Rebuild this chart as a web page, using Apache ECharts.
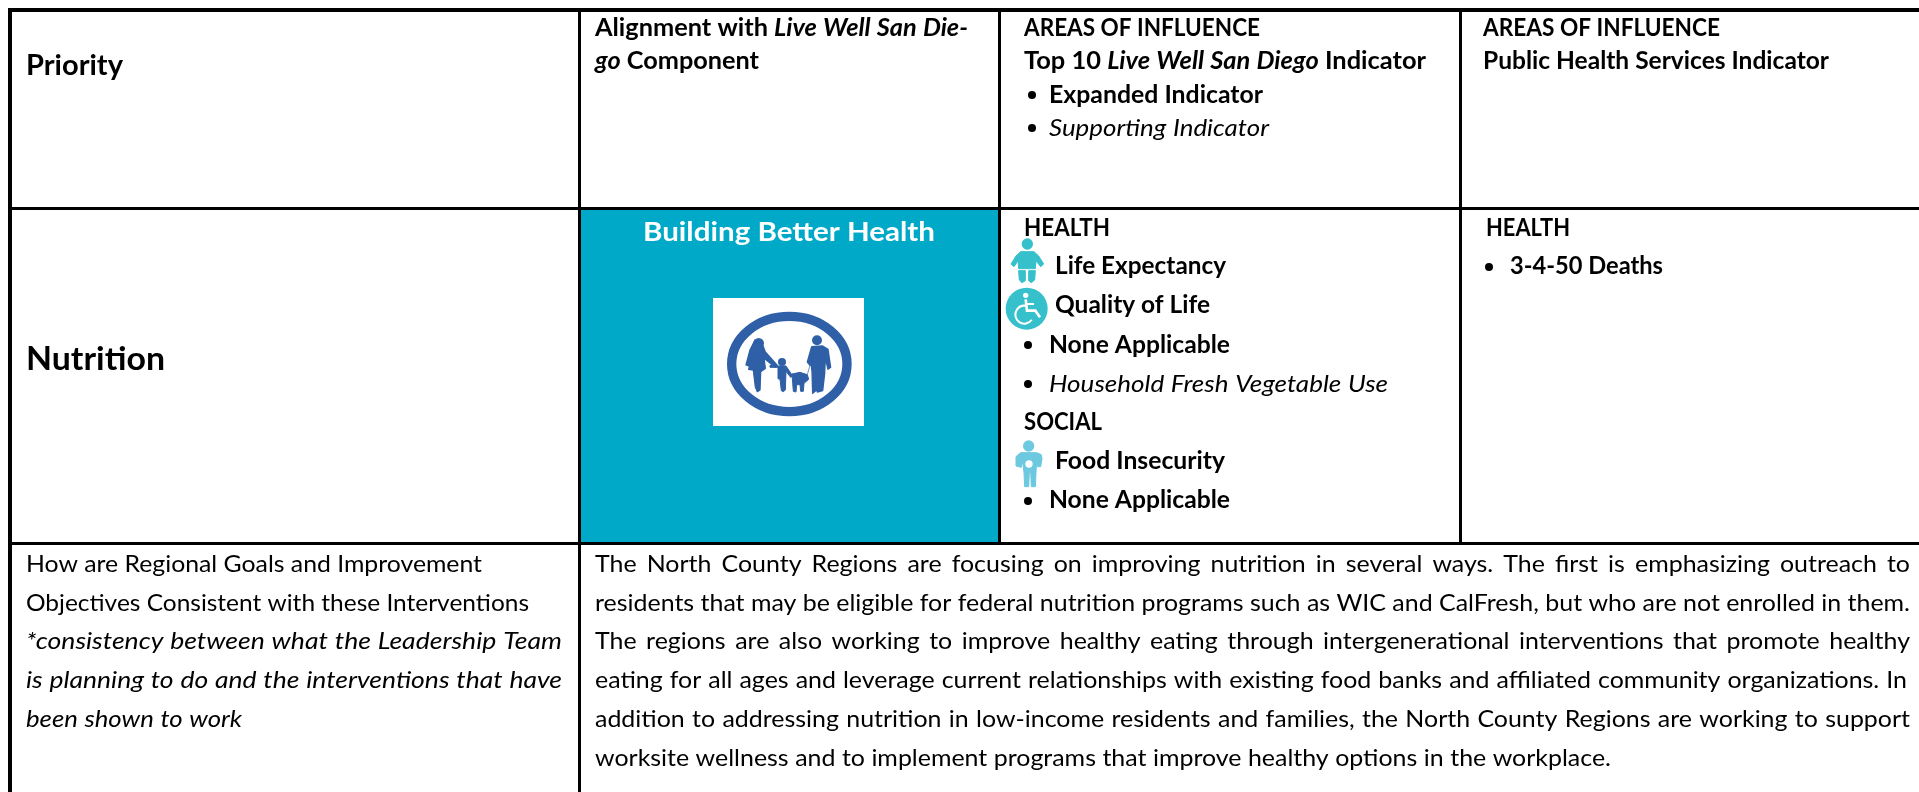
<!DOCTYPE html>
<html>
<head>
<meta charset="utf-8">
<title>Nutrition priority</title>
<script src="https://cdn.jsdelivr.net/npm/echarts@6/dist/echarts.min.js"></script>
<style>
html, body { margin: 0; padding: 0; background: #fff; }
#main { width: 1919px; height: 792px; }
</style>
</head>
<body>
<div id="main"></div>
<script>
// table text, *...* marks italic words
var priorityHead = 'Priority';
var alignmentHead = ['Alignment with *Live Well San Die-*', '*go* Component'];
var top10Head = ['AREAS OF INFLUENCE', 'Top 10 *Live Well San Diego* Indicator', 'Expanded Indicator', '*Supporting Indicator*'];
var publicHead = ['AREAS OF INFLUENCE', 'Public Health Services Indicator'];
var priorityName = 'Nutrition';
var componentName = 'Building Better Health';
var top10Health = ['HEALTH', 'Life Expectancy', 'Quality of Life', 'None Applicable', '*Household Fresh Vegetable Use*'];
var top10Social = ['SOCIAL', 'Food Insecurity', 'None Applicable'];
var publicHealth = ['HEALTH', '3-4-50 Deaths'];
var consistencyText = [
    'How are Regional Goals and Improvement',
    'Objectives Consistent with these Interventions',
    '*\u002Aconsistency between what the Leadership Team*',
    '*is planning to do and the interventions that have*',
    '*been shown to work*'
];
var regionText = [
    'The North County Regions are focusing on improving nutrition in several ways. The first is emphasizing outreach to',
    'residents that may be eligible for federal nutrition programs such as WIC and CalFresh, but who are not enrolled in them.',
    'The regions are also working to improve healthy eating through intergenerational interventions that promote healthy',
    'eating for all ages and leverage current relationships with existing food banks and affiliated community organizations. In',
    'addition to addressing nutrition in low-income residents and families, the North County Regions are working to support',
    'worksite wellness and to implement programs that improve healthy options in the workplace.'
];

var FONT = 'Lato';
var measureCtx = document.createElement('canvas').getContext('2d');

function fontOf(size, bold, italic) {
    return (italic ? 'italic ' : '') + (bold ? 'bold ' : '') + size + 'px ' + FONT;
}

// split "a *b c* d" into words with an italic flag
function parseWords(text) {
    var words = [];
    var italic = false;
    text.split(' ').forEach(function (w) {
        var open = w.charAt(0) === '*' && w.length > 1;
        if (open) { italic = true; w = w.slice(1); }
        var close = w.charAt(w.length - 1) === '*';
        if (close) { w = w.slice(0, -1); }
        words.push({ text: w, italic: italic });
        if (close) { italic = false; }
    });
    return words;
}

function naturalWidth(text, size, bold) {
    var words = parseWords(text);
    var sum = 0;
    words.forEach(function (w) {
        measureCtx.font = fontOf(size, bold, w.italic);
        w.width = measureCtx.measureText(w.text).width;
        sum += w.width;
    });
    measureCtx.font = fontOf(size, bold, false);
    var space = measureCtx.measureText(' ').width;
    return { words: words, sum: sum, space: space, total: sum + space * (words.length - 1) };
}

// how far the alphabetic baseline sits below the middle line that zrender draws on
function baselineDrop(size, bold) {
    measureCtx.font = fontOf(size, bold, false);
    measureCtx.textBaseline = 'middle';
    var drop = measureCtx.measureText('H').actualBoundingBoxDescent;
    measureCtx.textBaseline = 'alphabetic';
    return drop;
}

var elements = [];

// one line of text from x0 to x1, sitting on the given baseline
function addLine(text, x0, x1, baseline, size, bold, fill, fixedScale) {
    var m = naturalWidth(text, size, bold);
    var k = fixedScale || (x1 - x0) / m.total;
    var gap = fixedScale ? (x1 - x0 - m.sum * k) / Math.max(1, m.words.length - 1) : m.space * k;
    var drop = baselineDrop(size, bold);
    var x = x0;
    m.words.forEach(function (w) {
        elements.push({
            type: 'text',
            x: x,
            y: baseline - drop,
            scaleX: k,
            silent: true,
            style: {
                text: w.text,
                font: fontOf(size, bold, w.italic),
                fill: fill || '#000',
                align: 'left',
                verticalAlign: 'middle'
            }
        });
        x += w.width * k + gap;
    });
}

function addRect(x, y, w, h, fill) {
    elements.push({ type: 'rect', silent: true, shape: { x: x, y: y, width: w, height: h }, style: { fill: fill } });
}

function addBullet(x, y) {
    elements.push({ type: 'circle', silent: true, shape: { cx: x, cy: y, r: 4 }, style: { fill: '#000' } });
}

function blob(points, fill, fatten) {
    return { type: 'polygon', shape: { points: points }, style: { fill: fill, stroke: fill, lineWidth: fatten || 0, lineJoin: 'round' } };
}

function dot(cx, cy, r, fill) {
    return { type: 'circle', shape: { cx: cx, cy: cy, r: r }, style: { fill: fill } };
}

function stroke(points, color, width) {
    return { type: 'polyline', shape: { points: points }, style: { fill: 'none', stroke: color, lineWidth: width } };
}

// teal cell
addRect(580, 208, 420, 335, '#00A9C7');

// logo tile, drawn in a local 3x space so the silhouettes are easy to trace
addRect(713, 298, 151, 128, '#fff');
var LOGO = '#2F5FA6';
elements.push({
    type: 'group', x: 700, y: 290, scaleX: 1 / 3, scaleY: 1 / 3, silent: true,
    children: [
        { type: 'ellipse', shape: { cx: 268, cy: 222, rx: 173, ry: 143 }, style: { fill: 'none', stroke: LOGO, lineWidth: 28 } },
        dot(176, 160, 16, LOGO),
        blob([[165, 150], [150, 180], [138, 225], [146, 228], [156, 200], [146, 238], [160, 240], [166, 290], [172, 305], [180, 300], [182, 245], [196, 235], [192, 205], [226, 232], [232, 226], [196, 186], [188, 165]], LOGO, 4),
        dot(246, 216, 12, LOGO),
        blob([[232, 228], [258, 228], [278, 258], [272, 262], [258, 244], [256, 300], [250, 305], [244, 302], [240, 268], [234, 266], [234, 232], [210, 232], [210, 226]], LOGO, 3),
        blob([[276, 252], [300, 247], [322, 254], [326, 268], [312, 280], [310, 304], [302, 304], [300, 284], [290, 284], [288, 306], [280, 304], [278, 278]], LOGO, 3),
        dot(351, 151, 15, LOGO),
        blob([[335, 170], [368, 168], [384, 178], [392, 232], [384, 238], [376, 204], [374, 250], [368, 302], [352, 306], [350, 300], [338, 310], [336, 244], [332, 210], [330, 226], [322, 216]], LOGO, 4),
        stroke([[330, 225], [322, 254]], LOGO, 2)
    ]
});

// baby and wheelchair icons
var BABY = '#35C0CB';
elements.push({
    type: 'group', x: 990, y: 220, scaleX: 1 / 3, scaleY: 1 / 3, silent: true,
    children: [
        dot(112, 72, 17, BABY),
        blob([[92, 95], [132, 95], [146, 108], [161, 132], [152, 140], [138, 122], [136, 146], [86, 146], [84, 122], [72, 140], [63, 132], [78, 108]], BABY, 3),
        blob([[86, 152], [106, 152], [106, 182], [96, 188], [88, 180]], BABY, 3),
        blob([[116, 152], [136, 152], [134, 180], [124, 188], [116, 182]], BABY, 3),
        dot(110, 266, 63, BABY),
        dot(107, 226, 8, '#fff'),
        stroke([[107, 238], [111, 272], [136, 272], [150, 292]], '#fff', 8),
        stroke([[109, 252], [132, 252]], '#fff', 6),
        { type: 'arc', shape: { cx: 103, cy: 284, r: 27, startAngle: 0.6, endAngle: 4.9, clockwise: true }, style: { fill: 'none', stroke: '#fff', lineWidth: 6 } }
    ]
});

// child with apple icon
var CHILD = '#6CC9DF';
elements.push({
    type: 'group', x: 990, y: 420, scaleX: 1 / 3, scaleY: 1 / 3, silent: true,
    children: [
        dot(116, 78, 17, CHILD),
        blob([[92, 98], [140, 98], [154, 104], [156, 116], [152, 140], [142, 140], [140, 124], [138, 158], [136, 200], [124, 200], [122, 156], [118, 156], [116, 200], [104, 200], [102, 158], [98, 124], [94, 142], [78, 138], [78, 110]], CHILD, 3),
        dot(117, 132, 11, '#fff')
    ]
});

// table rules
addRect(8, 8, 1911, 4, '#000');
addRect(8, 207, 1911, 3, '#000');
addRect(8, 542, 1911, 3, '#000');
addRect(8, 8, 4, 784, '#000');
addRect(578, 8, 3, 784, '#000');
addRect(998, 8, 3, 535, '#000');
addRect(1459, 8, 3, 535, '#000');

// header row
addLine(priorityHead, 26, 123, 75, 28, true);
addLine(alignmentHead[0], 595, 968, 36, 24, true);
addLine(alignmentHead[1], 595, 759, 69, 24, true);
addLine(top10Head[0], 1024, 1260, 36, 24, true);
addLine(top10Head[1], 1024, 1426, 69, 24, true);
addBullet(1032, 95);
addLine(top10Head[2], 1049, 1263, 103, 24, true);
addBullet(1032, 128);
addLine(top10Head[3], 1049, 1269, 136, 24, false);
addLine(publicHead[0], 1483, 1720, 36, 24, true);
addLine(publicHead[1], 1483, 1829, 69, 24, true);

// nutrition row
addLine(priorityName, 26, 165, 370, 33, true);
addLine(componentName, 643, 935, 241, 27, true, '#fff');
addLine(top10Health[0], 1024, 1110, 236, 24, true);
addLine(top10Health[1], 1055, 1226, 274, 24, true);
addLine(top10Health[2], 1055, 1210, 313, 24, true);
addBullet(1028, 345);
addLine(top10Health[3], 1049, 1230, 353, 24, true);
addBullet(1028, 384);
addLine(top10Health[4], 1049, 1388, 392, 24, false);
addLine(top10Social[0], 1024, 1102, 430, 24, true);
addLine(top10Social[1], 1055, 1225, 469, 24, true);
addBullet(1028, 501);
addLine(top10Social[2], 1049, 1230, 508, 24, true);
addLine(publicHealth[0], 1486, 1570, 236, 24, true);
addBullet(1489, 267);
addLine(publicHealth[1], 1510, 1663, 274, 24, true);

// bottom row
var bodyBaselines = [571.5, 610.5, 648.5, 687.5, 726.5, 765.5];
var leftEnds = [482, 529, 562, 562, 242];
consistencyText.forEach(function (t, i) {
    addLine(t, 26, leftEnds[i], bodyBaselines[i], 24, false);
});
// the tightest paragraph line sets the glyph width, the others are justified with it
var bodyScale = (1910 - 595) / naturalWidth(regionText[1], 24, false).total;
var rightEnds = [1910, 1910, 1910, 1907, 1910, 1611];
regionText.forEach(function (t, i) {
    addLine(t, 595, rightEnds[i], bodyBaselines[i], 24, false, '#000', bodyScale);
});

var myChart = echarts.init(document.getElementById('main'));
myChart.setOption({
    backgroundColor: '#fff',
    animation: false,
    graphic: { elements: elements }
});
</script>
</body>
</html>
